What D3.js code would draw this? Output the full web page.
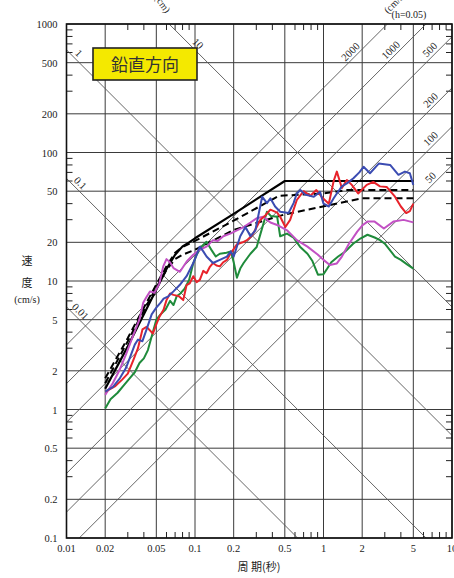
<!DOCTYPE html>
<html>
<head>
<meta charset="utf-8">
<script src="https://cdn.jsdelivr.net/npm/d3@7"></script>
<style>
  body { margin: 0; background: #fff; }
  text { font-family: 'Liberation Serif', 'DejaVu Serif', serif; fill: #222; }
  .jp { font-family: 'Noto Sans CJK JP', sans-serif; }
</style>
</head>
<body>
<div id="chart"></div>
<script>
/* global d3 */

const WIDTH = 454
const HEIGHT = 578

// axis ticks / reference lines
const xTicks = [0.01, 0.02, 0.05, 0.1, 0.2, 0.5, 1, 2, 5, 10]
const yTicks = [0.1, 0.2, 0.5, 1, 2, 5, 10, 20, 50, 100, 200, 500, 1000]
const dispLines = [0.01, 0.1, 1, 10] // displacement (cm)
const accLines = [50, 100, 200, 500, 1000, 2000] // acceleration (cm/s2)

// [period (s), velocity (cm/s)]
const designSolid = [[0.02, 1.45], [0.03, 3.1], [0.04, 5.5], [0.05, 8.6], [0.06, 12.4], [0.07, 16.0], [0.08, 18.6], [0.09, 20.0], [0.1, 21.5], [0.2, 33.3], [0.5, 60], [5, 60]]
const designDash1 = [[0.02, 1.75], [0.03, 3.6], [0.04, 6.2], [0.05, 9.4], [0.06, 13.0], [0.07, 16.6], [0.08, 18.4], [0.1, 20.5], [0.2, 29.5], [0.45, 46], [1.0, 48], [1.5, 51], [5, 51]]
const designDash2 = [[0.02, 1.6], [0.03, 3.4], [0.04, 5.9], [0.05, 8.9], [0.06, 12.2], [0.07, 14.8], [0.08, 16.0], [0.1, 17.5], [0.2, 25], [0.5, 33], [2.0, 44], [5, 44]]

const redWave = [[0.02, 1.38], [0.022, 1.45], [0.024, 1.52], [0.027, 1.7], [0.03, 1.9], [0.033, 2.4], [0.036, 3.0], [0.039, 4.2], [0.042, 4.4], [0.047, 3.9], [0.05, 4.6], [0.053, 5.3], [0.057, 6.0], [0.06, 7.1], [0.064, 8.0], [0.068, 7.8], [0.075, 7.6], [0.081, 7.1], [0.086, 9.3], [0.091, 9.6], [0.097, 10.9], [0.103, 9.8], [0.109, 10.2], [0.116, 12.0], [0.123, 11.5], [0.13, 12.8], [0.138, 13.8], [0.147, 13.2], [0.156, 13.0], [0.166, 14.0], [0.177, 14.6], [0.19, 16.5], [0.212, 19.3], [0.235, 20.0], [0.254, 20.8], [0.27, 22], [0.284, 23.4], [0.3, 26], [0.322, 29.9], [0.354, 32.5], [0.386, 35.9], [0.436, 34], [0.46, 31.6], [0.505, 26.3], [0.55, 29.9], [0.62, 42.7], [0.7, 50], [0.79, 46], [0.88, 51], [0.99, 44], [1.1, 40], [1.2, 60], [1.27, 71], [1.39, 53], [1.52, 61], [1.66, 56], [1.86, 48], [2.17, 56], [2.44, 59], [2.75, 54.5], [3.1, 54], [3.6, 45.3], [4.0, 38], [4.4, 33.8], [4.7, 35], [5.0, 40]]
const blueWave = [[0.02, 1.38], [0.023, 1.5], [0.026, 1.75], [0.029, 2.1], [0.031, 2.5], [0.034, 3.2], [0.036, 3.5], [0.039, 3.4], [0.042, 4.2], [0.046, 5.5], [0.05, 6.2], [0.054, 6.8], [0.057, 7.3], [0.062, 7.6], [0.068, 8.3], [0.076, 9.3], [0.086, 10.9], [0.097, 13.8], [0.109, 18.5], [0.116, 17], [0.123, 15.5], [0.138, 13.8], [0.156, 14.6], [0.177, 15.5], [0.19, 17], [0.2, 15.5], [0.225, 22.3], [0.247, 26.3], [0.27, 22.3], [0.295, 24.8], [0.333, 45.3], [0.363, 40.4], [0.386, 44], [0.42, 38], [0.46, 34.6], [0.535, 33.8], [0.585, 40.4], [0.62, 48], [0.66, 51], [0.72, 47], [0.84, 45.3], [0.94, 49.4], [1.0, 40], [1.1, 38], [1.2, 44], [1.27, 48], [1.39, 54.5], [1.52, 57.5], [1.71, 63], [1.9, 70], [2.05, 77.5], [2.3, 69], [2.69, 82], [3.3, 80], [3.83, 67], [4.3, 71], [4.7, 69], [5.0, 56]]
const magentaWave = [[0.02, 1.3], [0.0229, 1.6], [0.0257, 2.0], [0.0291, 2.7], [0.0328, 3.7], [0.0369, 5.0], [0.0396, 6.8], [0.0416, 7.4], [0.0446, 8.3], [0.0483, 8.1], [0.0527, 9.5], [0.0566, 13.0], [0.06, 14.8], [0.0638, 14.0], [0.068, 12.6], [0.0763, 11.8], [0.0862, 14.2], [0.0968, 16], [0.109, 17.5], [0.123, 18.5], [0.138, 20.8], [0.15, 20.5], [0.166, 22.3], [0.19, 23.5], [0.212, 24.8], [0.239, 26.3], [0.27, 28.5], [0.302, 30.8], [0.34, 31.6], [0.386, 28.5], [0.436, 27.3], [0.52, 24.8], [0.62, 20.8], [0.75, 18.5], [0.9, 16.1], [1.0, 14.6], [1.12, 13.3], [1.27, 13.7], [1.39, 15.5], [1.57, 19.3], [1.83, 24.2], [2.0, 27], [2.2, 29], [2.5, 29], [2.95, 25.6], [3.5, 29], [4.2, 29.9], [5.0, 28.6]]
const greenWave = [[0.02, 1.02], [0.022, 1.2], [0.025, 1.35], [0.028, 1.55], [0.031, 1.75], [0.034, 1.95], [0.037, 2.3], [0.04, 2.5], [0.043, 2.9], [0.046, 3.7], [0.05, 5.0], [0.054, 5.5], [0.059, 6.0], [0.064, 7.0], [0.068, 6.5], [0.072, 7.6], [0.077, 8.0], [0.083, 8.7], [0.09, 10.2], [0.097, 13.8], [0.103, 16], [0.112, 18.5], [0.123, 20.2], [0.135, 17.3], [0.145, 15.5], [0.156, 16.3], [0.176, 16.6], [0.19, 17], [0.2, 14], [0.212, 10.6], [0.225, 12.5], [0.239, 13.8], [0.27, 16.3], [0.302, 18.4], [0.33, 25], [0.363, 34.6], [0.39, 32], [0.436, 31.6], [0.46, 22.3], [0.52, 23.4], [0.585, 21.7], [0.656, 18.5], [0.75, 16.3], [0.82, 14.3], [0.905, 11.2], [1.0, 11.3], [1.07, 12.5], [1.15, 14], [1.3, 15.5], [1.47, 16.9], [1.7, 19.5], [1.95, 21.5], [2.2, 22.9], [2.5, 21.8], [2.75, 20.8], [3.0, 19.5], [3.6, 15.5], [4.0, 14.6], [4.5, 13.4], [5.0, 12.5]]

const svg = d3.select('#chart')
  .append('svg')
  .attr('width', WIDTH)
  .attr('height', HEIGHT)

const x = d3.scaleLog().domain([0.01, 10]).range([66.5, 452])
const y = d3.scaleLog().domain([0.1, 1000]).range([538, 24])
const [x0, x1] = x.range()
const [y0, y1] = y.range()

svg.append('clipPath').attr('id', 'plot')
  .append('rect')
  .attr('x', x0).attr('y', y1)
  .attr('width', x1 - x0).attr('height', y0 - y1)

// minor tick values (3,4,6,7,8,9 in each decade)
const minor = (lo, hi) => {
  const out = []
  for (let e = Math.log10(lo); e < Math.log10(hi); e++) {
    [3, 4, 6, 7, 8, 9].forEach((m) => out.push(m * Math.pow(10, e)))
  }
  return out
}

// grid
svg.append('g')
  .selectAll('line')
  .data(xTicks)
  .join('line')
  .attr('x1', (d) => x(d)).attr('x2', (d) => x(d))
  .attr('y1', y1).attr('y2', y0)
  .attr('stroke', '#3a3a3a').attr('stroke-width', 1)

svg.append('g')
  .selectAll('line')
  .data(yTicks)
  .join('line')
  .attr('x1', x0).attr('x2', x1)
  .attr('y1', (d) => y(d)).attr('y2', (d) => y(d))
  .attr('stroke', '#3a3a3a').attr('stroke-width', 1)

// minor ticks on all four sides
const ticks = svg.append('g').attr('stroke', '#222').attr('stroke-width', 1)
minor(0.01, 10).forEach((t) => {
  ticks.append('line').attr('x1', x(t)).attr('x2', x(t)).attr('y1', y0).attr('y2', y0 - 6)
  ticks.append('line').attr('x1', x(t)).attr('x2', x(t)).attr('y1', y1).attr('y2', y1 + 6)
})
minor(0.1, 1000).forEach((v) => {
  ticks.append('line').attr('x1', x0).attr('x2', x0 + 6).attr('y1', y(v)).attr('y2', y(v))
  ticks.append('line').attr('x1', x1).attr('x2', x1 - 6).attr('y1', y(v)).attr('y2', y(v))
})

// tripartite diagonal lines
const diag = svg.append('g').attr('clip-path', 'url(#plot)')
const dispV = (D, T) => 2 * Math.PI * D / T
const accV = (A, T) => A * T / (2 * Math.PI)
dispLines.forEach((D) => {
  diag.append('line')
    .attr('x1', x(0.001)).attr('y1', y(dispV(D, 0.001)))
    .attr('x2', x(100)).attr('y2', y(dispV(D, 100)))
    .attr('stroke', '#555').attr('stroke-width', 0.9)
})
accLines.forEach((A) => {
  diag.append('line')
    .attr('x1', x(0.001)).attr('y1', y(accV(A, 0.001)))
    .attr('x2', x(100)).attr('y2', y(accV(A, 100)))
    .attr('stroke', '#555').attr('stroke-width', 0.9)
})

// labels on diagonal lines
const dispLabelT = { 0.01: 0.0118, 0.1: 0.0118, 1: 0.0115, 10: 0.097 }
dispLines.forEach((D) => {
  const T = dispLabelT[D]
  svg.append('text')
    .attr('transform', `translate(${x(T)},${y(dispV(D, T))}) rotate(45)`)
    .attr('y', -3)
    .attr('text-anchor', 'middle')
    .style('font-size', '10.5px')
    .text(D)
})
const accLabelT = { 50: 7.4, 100: 7.4, 200: 7.4, 500: 7.3, 1000: 3.62, 2000: 1.76 }
accLines.forEach((A) => {
  const T = accLabelT[A]
  svg.append('text')
    .attr('transform', `translate(${x(T)},${y(accV(A, T))}) rotate(-45)`)
    .attr('y', -3)
    .attr('text-anchor', 'middle')
    .style('font-size', '10.5px')
    .text(A)
})

// frame
svg.append('rect')
  .attr('x', x0).attr('y', y1)
  .attr('width', x1 - x0).attr('height', y0 - y1)
  .attr('fill', 'none').attr('stroke', '#111').attr('stroke-width', 1.6)

// tick labels
svg.append('g')
  .selectAll('text')
  .data(xTicks)
  .join('text')
  .attr('x', (d) => x(d)).attr('y', y0 + 14)
  .attr('text-anchor', 'middle')
  .style('font-size', '10.5px')
  .text((d) => d)

svg.append('g')
  .selectAll('text')
  .data(yTicks)
  .join('text')
  .attr('x', x0 - 9).attr('y', (d) => y(d) + 4)
  .attr('text-anchor', 'end')
  .style('font-size', '10.5px')
  .text((d) => d)

// series
const line = d3.line().x((d) => x(d[0])).y((d) => y(d[1]))
const series = svg.append('g').attr('fill', 'none').attr('stroke-linejoin', 'round')
series.append('path').attr('d', line(designSolid)).attr('stroke', '#000').attr('stroke-width', 2.2)
series.append('path').attr('d', line(designDash1)).attr('stroke', '#000').attr('stroke-width', 2).attr('stroke-dasharray', '7,4')
series.append('path').attr('d', line(designDash2)).attr('stroke', '#000').attr('stroke-width', 2).attr('stroke-dasharray', '7,4')
series.append('path').attr('d', line(greenWave)).attr('stroke', '#1f8b3b').attr('stroke-width', 2)
series.append('path').attr('d', line(magentaWave)).attr('stroke', '#c251c4').attr('stroke-width', 2)
series.append('path').attr('d', line(redWave)).attr('stroke', '#e8232b').attr('stroke-width', 2)
series.append('path').attr('d', line(blueWave)).attr('stroke', '#3b4cb2').attr('stroke-width', 2)

// title box
svg.append('rect')
  .attr('x', 93).attr('y', 48).attr('width', 104).attr('height', 32)
  .attr('fill', '#f4e900').attr('stroke', '#222').attr('stroke-width', 1.6)
svg.append('text')
  .attr('class', 'jp')
  .attr('x', 145).attr('y', 70.5)
  .attr('text-anchor', 'middle')
  .style('font-size', '17px')
  .style('fill', '#333')
  .text('鉛直方向')

// unit annotations
svg.append('text')
  .attr('transform', 'translate(160,6) rotate(55)')
  .attr('text-anchor', 'middle')
  .style('font-size', '10px')
  .text('(cm)')
svg.append('text')
  .attr('transform', 'translate(398,4) rotate(-45)')
  .attr('text-anchor', 'middle')
  .style('font-size', '10px')
  .text('(cm/s²)')
svg.append('text')
  .attr('x', 409).attr('y', 18)
  .attr('text-anchor', 'middle')
  .style('font-size', '10px')
  .text('(h=0.05)')

// axis titles
svg.append('text').attr('class', 'jp').attr('x', 27).attr('y', 265)
  .attr('text-anchor', 'middle').style('font-size', '11px').text('速')
svg.append('text').attr('class', 'jp').attr('x', 27).attr('y', 287)
  .attr('text-anchor', 'middle').style('font-size', '11px').text('度')
svg.append('text').attr('x', 27).attr('y', 303)
  .attr('text-anchor', 'middle').style('font-size', '10px').text('(cm/s)')
svg.append('text').attr('class', 'jp').attr('x', 259).attr('y', 571)
  .attr('text-anchor', 'middle').style('font-size', '11px').text('周 期(秒)')
</script>
</body>
</html>
